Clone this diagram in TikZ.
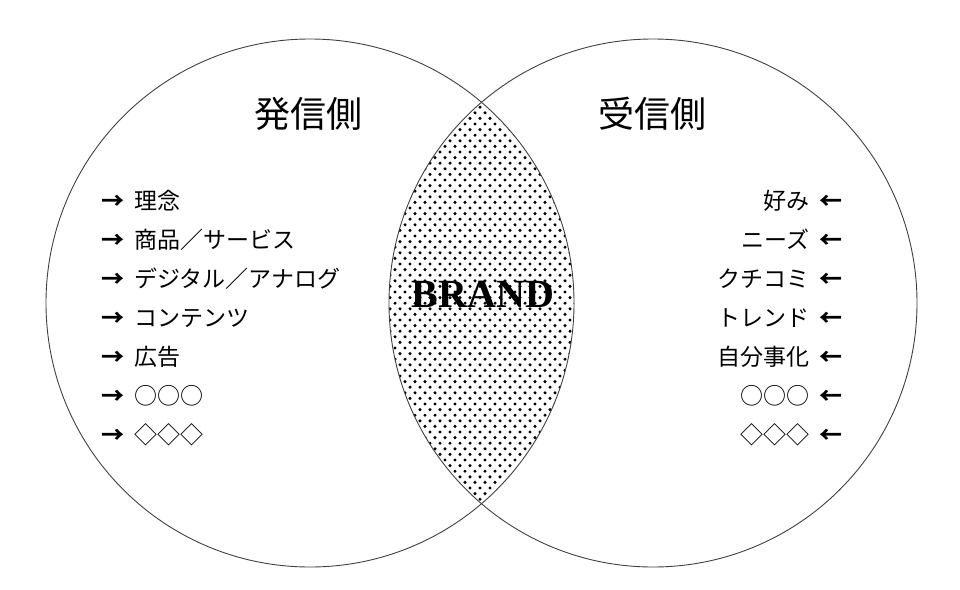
\documentclass[tikz,border=0pt]{standalone}
\usepackage{fontspec}
\setmainfont{Liberation Serif}
\newfontfamily\jpfont{Noto Sans CJK JP}
\usetikzlibrary{positioning}
\tikzstyle{every node}=[inner sep=0pt,outer sep=0pt]
\tikzstyle{brand text}=[font=\bfseries\fontsize{40}{44}\selectfont]
\tikzstyle{side title}=[font=\jpfont\fontsize{36}{40}\selectfont]
\tikzstyle{side item}=[font=\jpfont\fontsize{23}{26}\selectfont,text height=0.88em,text depth=0.12em]
\tikzstyle{side arrow}=[side item,font=\jpfont\bfseries\fontsize{23}{26}\selectfont]
\tikzstyle{venn circle}=[draw=black!75,line width=0.9pt]

\begin{document}
\begin{tikzpicture}[x=1pt,y=-1pt]
  \useasboundingbox (0,0) rectangle (960,589);
  \coordinate (L) at (310,303);
  \coordinate (R) at (653,303);
  % dotted overlap
  \begin{scope}
    \clip (L) circle (264);
    \clip (R) circle (264);
    \foreach \y in {0,...,74} {
      \foreach \x in {0,...,20} {
        \fill ({380+\x*10+mod(\y,2)*5},{96+\y*5.6}) circle (1.7);
      }
    }
  \end{scope}
  \draw[venn circle] (L) circle (264);
  \draw[venn circle] (R) circle (264);

  \node[brand text] (brand) at (483,294) {BRAND};
  \node[side title] (sender) at (308,114) {発信側};
  \node[side title] (receiver) at (652,114) {受信側};

  \foreach \t [count=\i] in {理念,商品／サービス,デジタル／アナログ,コンテンツ,広告,○○○,◇◇◇} {
    \node[side item,anchor=west] (send\i) at (134,{167+\i*39}) {\t};
    \node[side arrow,left=10pt of send\i] (sendarrow\i) {→};
  }
  \foreach \t [count=\i] in {好み,ニーズ,クチコミ,トレンド,自分事化,○○○,◇◇◇} {
    \node[side item,anchor=east] (recv\i) at (809,{167+\i*39}) {\t};
    \node[side arrow,right=10pt of recv\i] (recvarrow\i) {←};
  }
\end{tikzpicture}
\end{document}
